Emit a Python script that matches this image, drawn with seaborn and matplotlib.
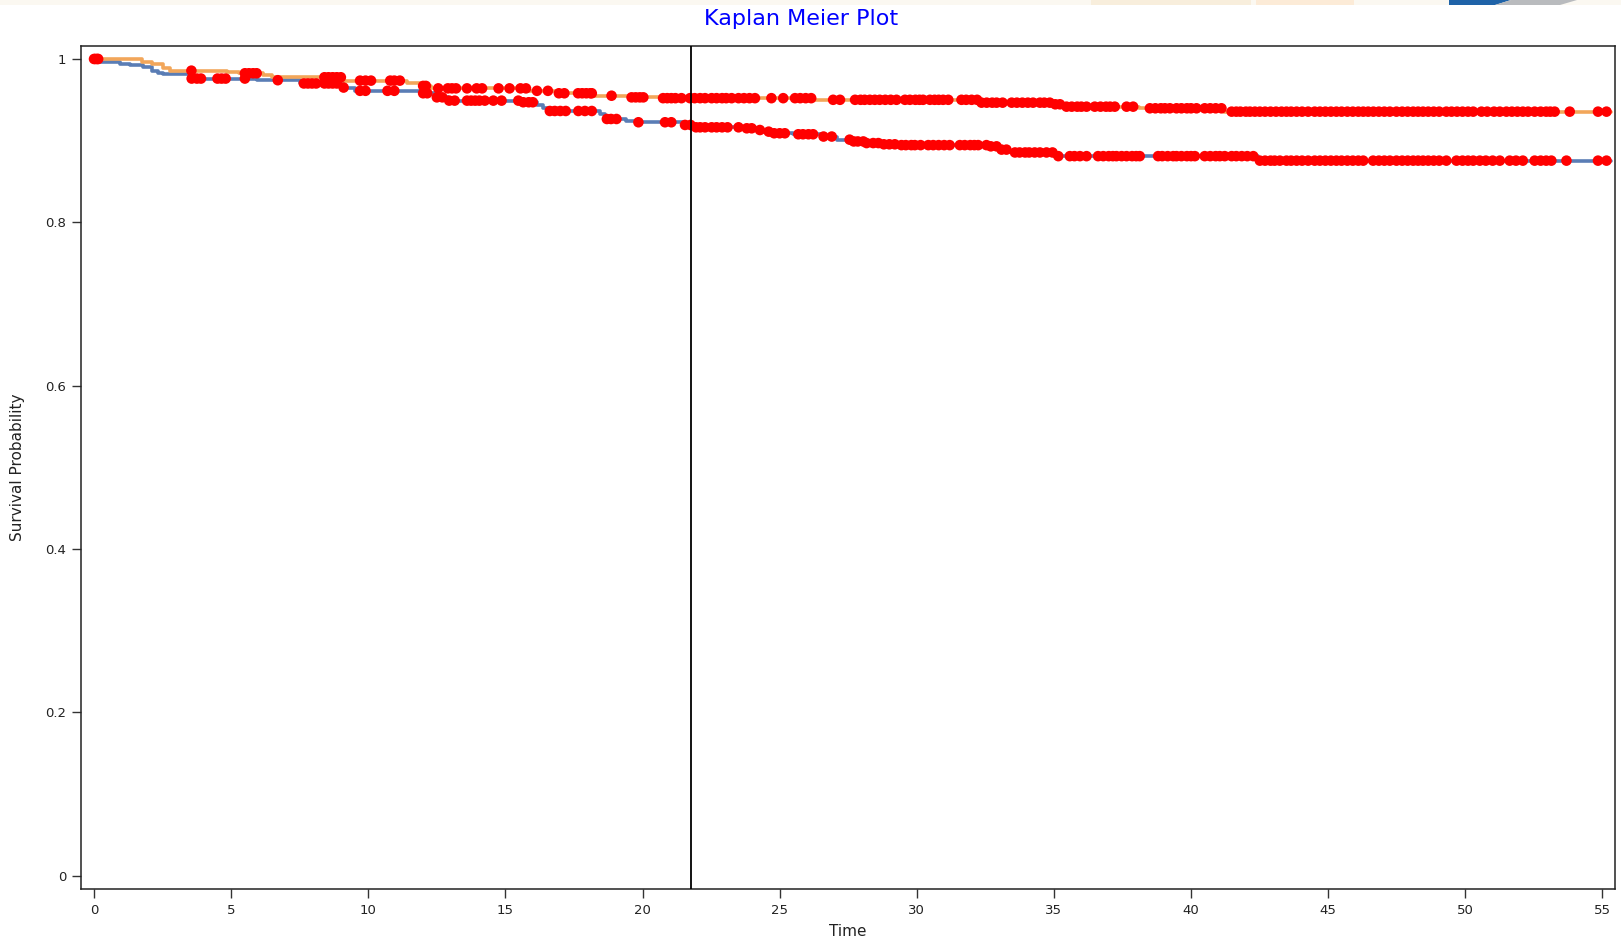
import numpy as np
import pandas as pd
import matplotlib
matplotlib.use("Agg")
import matplotlib.pyplot as plt
from matplotlib.patches import Rectangle, Polygon
import seaborn as sns

# ---------------- data ----------------
title_text = "Kaplan Meier Plot"
x_label = "Time"
y_label = "Survival Probability"
x_ticks = [0, 5, 10, 15, 20, 25, 30, 35, 40, 45, 50, 55]
y_ticks = [0, 0.2, 0.4, 0.6, 0.8, 1.0]
y_tick_labels = ["0", "0.2", "0.4", "0.6", "0.8", "1"]
reference_time = 21.78
end_time = 55.3

# group A (orange curve): step times and survival after each step
orange_times = [0, 1.74, 2.1, 2.53, 2.77, 4.84, 5.3, 6.17, 6.5, 9.08, 11.4, 11.9,
                12.3, 15.77, 16.87, 18.2, 19.54, 20.63, 26.2, 32.28, 34.9, 35.3,
                38.1, 41.2]
orange_surv = [1.0, 0.9967, 0.994, 0.9886, 0.9857, 0.984, 0.9825, 0.980, 0.9776,
               0.9735, 0.970, 0.967, 0.964, 0.961, 0.958, 0.955, 0.953, 0.952,
               0.950, 0.9465, 0.9445, 0.9416, 0.9396, 0.9355]

# group B (blue curve)
blue_times = [0, 0.2, 0.95, 1.31, 1.8, 2.1, 2.35, 2.53, 3.5, 5.93, 7.5, 9.08, 9.5,
              11.9, 12.4, 12.9, 15.6, 16.14, 16.38, 16.56, 18.44, 18.63, 19.4,
              19.78, 21.5, 21.8, 23.55, 24.15, 24.4, 24.67, 25.5, 26.5, 27.1,
              27.7, 28.15, 28.8, 29.3, 32.7, 33.0, 33.3, 35.0, 42.45]
blue_surv = [1.0, 0.9967, 0.994, 0.9922, 0.9898, 0.9857, 0.9833, 0.9816, 0.976,
             0.974, 0.970, 0.965, 0.961, 0.958, 0.953, 0.949, 0.947, 0.944, 0.940,
             0.9363, 0.9322, 0.9265, 0.924, 0.9225, 0.9192, 0.9163, 0.9151, 0.913,
             0.911, 0.909, 0.9078, 0.905, 0.9012, 0.899, 0.897, 0.8955, 0.8945,
             0.893, 0.889, 0.8855, 0.881, 0.8755]

# censored observations (times)
orange_censor = [0.0, 0.12, 3.55, 5.5, 5.65, 5.8, 5.93, 8.4, 8.55, 8.7, 8.85, 9.0,
                 9.7, 9.9, 10.1, 10.8, 10.95, 11.15, 12.0, 12.1, 12.55, 12.9, 13.05,
                 13.2, 13.6, 13.95, 14.15, 14.75, 15.15, 15.55, 15.75, 16.15, 16.55,
                 16.95, 17.15, 17.65, 17.8, 17.95, 18.1, 18.15, 18.87, 19.6, 19.75,
                 19.9, 20.03, 20.75, 20.9, 21.05, 21.2, 21.42, 21.73, 21.9, 22.1,
                 22.28, 22.52, 22.7, 22.9, 23.05, 23.25, 23.5, 23.7, 23.9, 24.1,
                 24.7, 25.13, 25.56, 25.75, 25.95, 26.15, 26.95, 27.2, 27.75, 27.95,
                 28.1, 28.29, 28.47, 28.65, 28.85, 29.05, 29.26, 29.57, 29.75, 29.95,
                 30.1, 30.23, 30.48, 30.65, 30.8, 30.96, 31.15, 31.63, 31.8, 32.0,
                 32.2, 32.36, 32.55, 32.75, 32.91, 33.13, 33.46, 33.65, 33.85, 34.05,
                 34.24, 34.49, 34.65, 34.85, 35.05, 35.22, 35.46, 35.65, 35.85, 36.0,
                 36.19, 36.49, 36.7, 36.9, 37.05, 37.22, 37.65, 37.89, 38.5, 38.7,
                 38.9, 39.05, 39.23, 39.47, 39.65, 39.85, 40.0, 40.2, 40.5, 40.7,
                 40.9, 41.11, 41.48, 41.65, 41.8, 42.0, 42.15, 42.33, 42.51, 42.7,
                 42.9, 43.1, 43.3, 43.48, 43.65, 43.85, 44.05, 44.27, 44.51, 44.7,
                 44.9, 45.1, 45.3, 45.49, 45.7, 45.9, 46.1, 46.28, 46.46, 46.65,
                 46.85, 47.05, 47.25, 47.49, 47.7, 47.9, 48.1, 48.28, 48.46, 48.65,
                 48.85, 49.05, 49.31, 49.5, 49.7, 49.9, 50.1, 50.29, 50.59, 50.8,
                 51.05, 51.26, 51.5, 51.7, 51.9, 52.1, 52.29, 52.53, 52.75, 52.95,
                 53.1, 53.26, 53.81, 54.84, 55.15]
blue_censor = [0.05, 0.15, 3.56, 3.75, 3.9, 4.5, 4.65, 4.8, 5.5, 6.7, 7.65, 7.8,
               7.95, 8.1, 8.4, 8.55, 8.7, 8.85, 9.1, 9.7, 9.9, 10.7, 10.95, 12.0,
               12.15, 12.5, 12.7, 12.95, 13.15, 13.6, 13.75, 13.9, 14.05, 14.25,
               14.56, 14.86, 15.47, 15.65, 15.85, 16.0, 16.62, 16.8, 17.0, 17.2,
               17.66, 17.9, 18.15, 18.7, 18.85, 19.05, 19.85, 20.82, 21.05, 21.55,
               21.75, 21.95, 22.1, 22.28, 22.52, 22.7, 22.9, 23.1, 23.5, 23.8,
               23.98, 24.28, 24.6, 24.8, 25.0, 25.19, 25.68, 25.85, 26.05, 26.22,
               26.6, 26.9, 27.55, 27.7, 27.85, 28.05, 28.17, 28.41, 28.6, 28.8,
               29.0, 29.2, 29.44, 29.6, 29.8, 29.93, 30.14, 30.42, 30.6, 30.8,
               31.0, 31.2, 31.57, 31.75, 31.95, 32.1, 32.24, 32.54, 32.7, 32.91,
               33.09, 33.27, 33.58, 33.75, 33.95, 34.1, 34.3, 34.49, 34.73, 34.95,
               35.16, 35.58, 35.75, 35.95, 36.19, 36.61, 36.8, 37.0, 37.15, 37.28,
               37.47, 37.65, 37.85, 38.0, 38.13, 38.8, 38.95, 39.15, 39.35, 39.47,
               39.65, 39.85, 40.0, 40.14, 40.5, 40.7, 40.9, 41.05, 41.23, 41.48,
               41.65, 41.85, 42.05, 42.27, 42.51, 42.7, 42.9, 43.05, 43.24, 43.48,
               43.65, 43.85, 44.05, 44.27, 44.51, 44.7, 44.9, 45.1, 45.3, 45.49,
               45.7, 45.9, 46.1, 46.28, 46.64, 46.85, 47.05, 47.25, 47.49, 47.7,
               47.9, 48.1, 48.28, 48.46, 48.65, 48.85, 49.05, 49.31, 49.68, 49.9,
               50.1, 50.29, 50.53, 50.75, 51.0, 51.26, 51.62, 51.85, 52.1, 52.53,
               52.75, 52.95, 53.14, 53.69, 54.84, 55.15]

# ---------------- style ----------------
ORANGE = "#F2A65A"
BLUE = "#5A7DB5"
RED = "#FF0000"

sns.set_theme(style="white")
plt.rcParams["font.family"] = ["DejaVu Sans"]

W, H = 1621, 941
fig = plt.figure(figsize=(W / 100, H / 100), dpi=100)
fig.patch.set_facecolor("white")

# faint banner strip at the very top (page chrome)
fig.add_artist(Rectangle((0, 1 - 5 / H), 1, 5 / H, transform=fig.transFigure,
                         facecolor="#FBF8F1", edgecolor="none"))
fig.add_artist(Rectangle((1091 / W, 1 - 5 / H), 160 / W, 5 / H, transform=fig.transFigure,
                         facecolor="#F8EEDC", edgecolor="none"))
fig.add_artist(Rectangle((1256 / W, 1 - 5 / H), 98 / W, 5 / H, transform=fig.transFigure,
                         facecolor="#FCEBD7", edgecolor="none"))
fig.add_artist(Polygon([(1449 / W, 1), (1511 / W, 1), (1495 / W, 1 - 5 / H), (1449 / W, 1 - 5 / H)],
                       closed=True, transform=fig.transFigure, facecolor="#1F63A8", edgecolor="none"))
fig.add_artist(Polygon([(1511 / W, 1), (1577 / W, 1), (1560 / W, 1 - 5 / H), (1495 / W, 1 - 5 / H)],
                       closed=True, transform=fig.transFigure, facecolor="#B9BBBE", edgecolor="none"))

ax_left, ax_right, ax_top, ax_bottom = 80.6, 1615.0, 45.5, 889.0
ax = fig.add_axes([ax_left / W, 1 - ax_bottom / H, (ax_right - ax_left) / W, (ax_bottom - ax_top) / H])
ax.set_facecolor("white")


def curve_frame(times, surv, group):
    x = list(times) + [end_time]
    y = list(surv) + [surv[-1]]
    return pd.DataFrame({"Time": x, "Survival": y, "Group": group})


def censor_frame(times, surv, ctimes, group):
    t = np.asarray(times)
    s = np.asarray(surv)
    idx = np.searchsorted(t, np.asarray(ctimes), side="right") - 1
    return pd.DataFrame({"Time": ctimes, "Survival": s[idx], "Group": group})


curves = pd.concat([curve_frame(blue_times, blue_surv, "B"),
                    curve_frame(orange_times, orange_surv, "A")], ignore_index=True)
censors = pd.concat([censor_frame(orange_times, orange_surv, orange_censor, "A"),
                     censor_frame(blue_times, blue_surv, blue_censor, "B")], ignore_index=True)

sns.lineplot(data=curves, x="Time", y="Survival", hue="Group",
             palette={"A": ORANGE, "B": BLUE}, hue_order=["B", "A"],
             drawstyle="steps-post", linewidth=2.6, estimator=None, sort=False,
             legend=False, ax=ax)
sns.scatterplot(data=censors, x="Time", y="Survival", color=RED, s=58,
                edgecolor="none", linewidth=0, legend=False, ax=ax, zorder=4)

ax.axvline(reference_time, color="black", linewidth=1.3, zorder=5)

ax.set_xlim(-0.49, 55.46)
ax.set_ylim(-0.0165, 1.0165)
ax.set_xticks(x_ticks)
ax.set_xticklabels([str(v) for v in x_ticks])
ax.set_yticks(y_ticks)
ax.set_yticklabels(y_tick_labels)
ax.tick_params(axis="both", direction="out", length=6.2, width=1.0, color="#333333",
               labelsize=9.5, labelcolor="#222222", pad=4.3, bottom=True, left=True)

for sp in ax.spines.values():
    sp.set_visible(True)
    sp.set_color("#222222")
    sp.set_linewidth(1.1)

ax.set_xlabel(x_label, fontsize=11, color="#222222")
ax.set_ylabel(y_label, fontsize=11, color="#222222")
ax.xaxis.set_label_coords(0.5, (ax_bottom - 924) / (ax_bottom - ax_top))
ax.yaxis.set_label_coords((25 - ax_left) / (ax_right - ax_left), 0.5)

fig.text(801 / W, 1 - 18.6 / H, title_text, color="#0000FF", fontsize=16,
         ha="center", va="center")

fig.savefig("out.png", dpi=100)
